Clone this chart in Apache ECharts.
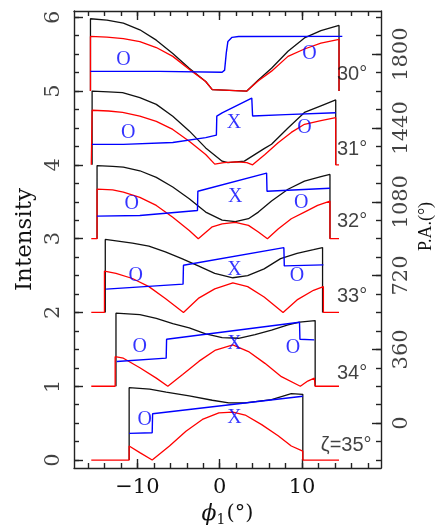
<!DOCTYPE html>
<html><head><meta charset="utf-8">
<script src="https://cdn.jsdelivr.net/npm/echarts@6/dist/echarts.min.js"></script>
<style>html,body{margin:0;padding:0;background:#fff;}#c{width:443px;height:532px;}</style>
</head><body><div id="c"></div>
<script>
// ---------- data ----------
const zetaLabels = ['30°', '31°', '32°', '33°', '34°', 'ζ=35°'];
const baselines = [5, 4, 3, 2, 1, 0];

const black30 = [[-15.7,0],[-15.7,0.98],[-13.7,0.96],[-11.7,0.92],[-9.7,0.83],[-7.7,0.69],[-5.7,0.51],[-3.7,0.31],[-1.7,0.13],[-0.9,0.02],[-0.8,0],[3.3,0],[4.7,0.15],[6.3,0.31],[8.3,0.54],[10.3,0.72],[12.3,0.82],[14.5,0.89],[14.5,0]];
const black31 = [[-15.5,0],[-15.5,1.0],[-13.5,0.99],[-11.8,0.98],[-9.7,0.91],[-7.7,0.82],[-5.7,0.66],[-3.7,0.46],[-1.7,0.23],[0.3,0.05],[1.0,0.03],[3.0,0.05],[5.4,0.22],[6.3,0.28],[8.3,0.50],[10.3,0.71],[12.3,0.80],[14.1,0.88],[14.1,0]];
const black32 = [[-14.9,0],[-14.9,0.99],[-13.0,0.98],[-11.7,0.97],[-9.7,0.92],[-7.7,0.83],[-5.7,0.70],[-3.7,0.54],[-1.7,0.36],[0.3,0.25],[1.9,0.23],[3.5,0.27],[4.7,0.36],[6.3,0.51],[8.3,0.67],[10.3,0.78],[12.3,0.84],[13.4,0.87],[13.4,0]];
const black33 = [[-13.9,0],[-13.9,0.99],[-10.6,0.94],[-8.6,0.90],[-6.6,0.82],[-4.6,0.73],[-2.6,0.63],[-0.6,0.53],[1.6,0.47],[3.4,0.50],[5.4,0.59],[7.4,0.73],[9.4,0.80],[11.4,0.85],[12.5,0.88],[12.5,0]];
const black34 = [[-12.6,0],[-12.6,0.99],[-9.7,0.97],[-7.7,0.92],[-5.7,0.85],[-3.7,0.79],[-1.7,0.71],[0.3,0.66],[2.3,0.65],[4.3,0.70],[6.3,0.76],[8.3,0.83],[9.7,0.87],[11.6,0.89],[11.6,0]];
const black35 = [[-11.0,0],[-11.0,0.98],[-8.5,0.96],[-6.5,0.92],[-3.7,0.87],[-0.9,0.81],[1.1,0.775],[3.1,0.775],[6.3,0.82],[8.7,0.90],[10.1,0.89],[10.1,0]];

const red30 = [[-15.7,0],[-15.7,0.74],[-13.7,0.73],[-11.7,0.71],[-9.7,0.67],[-7.7,0.59],[-5.7,0.47],[-3.4,0.27],[-1.7,0.13],[-0.9,0.02],[-0.8,0],[3.3,0],[4.7,0.14],[6.3,0.27],[8.3,0.47],[10.3,0.57],[12.3,0.65],[14.5,0.70],[14.5,0]];
const red31 = [[-15.6,0],[-15.5,0],[-15.5,0.74],[-13.5,0.73],[-11.8,0.71],[-9.7,0.66],[-7.7,0.59],[-5.7,0.48],[-3.7,0.32],[-1.7,0.14],[-0.6,0.01],[0.5,0.03],[2.0,0.04],[3.3,0.03],[4.0,0],[5.5,0.14],[7.1,0.30],[8.7,0.44],[10.3,0.55],[12.3,0.60],[14.1,0.64],[14.1,0],[14.5,0]];
const red32 = [[-15.6,0],[-14.9,0],[-14.9,0.67],[-13.0,0.66],[-11.7,0.63],[-9.7,0.56],[-7.7,0.45],[-5.7,0.29],[-3.7,0.11],[-2.6,0],[-0.9,0.16],[0.3,0.20],[1.9,0.22],[3.5,0.18],[4.7,0.09],[5.8,0],[7.1,0.13],[8.7,0.27],[10.3,0.36],[11.9,0.45],[13.4,0.51],[13.4,0],[14.5,0]];
const red33 = [[-15.6,0],[-14.0,0],[-14.0,0.56],[-12.6,0.53],[-10.6,0.46],[-8.6,0.35],[-6.6,0.19],[-4.4,0],[-2.6,0.19],[-0.6,0.32],[1.6,0.40],[3.4,0.35],[5.4,0.21],[7.7,0],[9.4,0.17],[11.4,0.30],[12.6,0.35],[12.6,0],[14.5,0]];
const red34 = [[-15.6,0],[-12.7,0],[-12.7,0.40],[-11.7,0.38],[-9.7,0.25],[-7.7,0.11],[-6.3,0],[-4.5,0.16],[-2.5,0.34],[-0.5,0.49],[1.6,0.56],[3.5,0.47],[5.5,0.31],[7.5,0.13],[9.8,0],[10.7,0.07],[11.5,0.11],[11.6,0],[14.5,0]];
const red35 = [[-15.6,0],[-11.0,0],[-11.0,0.19],[-9.7,0.10],[-8.2,0],[-6.1,0.19],[-4.1,0.39],[-2.1,0.55],[-0.1,0.64],[1.6,0.65],[3.1,0.61],[5.1,0.48],[7.1,0.33],[8.7,0.19],[10.1,0.12],[10.1,0],[14.5,0]];

const pa30 = [[-15.7,1716],[-7.3,1716],[-7.2,1711],[0.3,1712],[0.6,1722],[0.8,1805],[1.0,1862],[1.5,1882],[2.3,1886],[14.9,1887]];
const pa31 = [[-15.5,1360],[-11.7,1360],[-11.6,1365],[-5.7,1369],[-1.7,1393],[-0.4,1405],[-0.35,1498],[0.3,1514],[3.9,1586],[4.0,1498],[8.0,1505],[14.1,1514]];
const pa32 = [[-14.9,1010],[-9.7,1013],[-2.7,1037],[-2.65,1131],[5.7,1220],[5.75,1131],[13.4,1146]];
const pa33 = [[-13.8,654],[-4.45,678],[-4.4,770],[7.8,856],[7.85,767],[12.6,772]];
const pa34 = [[-12.5,301],[-6.5,317],[-6.45,409],[9.7,492],[9.75,409],[11.5,406]];
const pa35 = [[-11.0,-50],[-8.2,-47],[-8.15,46],[10.1,131]];

const modeText = ['O','O', 'O','X','O', 'O','X','O', 'O','X','O', 'O','X','O', 'O','X'];
const modePos = [[-11.7,5.42],[10.9,5.51], [-11.1,4.44],[1.75,4.57],[10.3,4.50], [-10.7,3.47],[1.9,3.57],[9.9,3.49], [-10.2,2.50],[1.8,2.58],[9.4,2.50], [-9.7,1.53],[1.8,1.58],[8.9,1.52], [-9.1,0.55],[1.8,0.57]];
const zetaPos = [[14.25,5.22],[14.25,4.21],[14.25,3.23],[14.25,2.22],[14.25,1.17],[12.3,0.19]];

const xMajor = [-10, 0, 10];
const xMinor = []; for (let v = -16; v <= 18; v += 2) xMinor.push(v);
const yMajor = [0, 1, 2, 3, 4, 5, 6];
const yMinor = []; for (let v = 0; v <= 6.001; v += 0.25) yMinor.push(+v.toFixed(2));
const paMajor = [0, 360, 720, 1080, 1440, 1800];
const paMinor = []; for (let v = -180; v <= 1980; v += 90) paMinor.push(v);

const blacks = [black30, black31, black32, black33, black34, black35];
const reds = [red30, red31, red32, red33, red34, red35];
const pas = [pa30, pa31, pa32, pa33, pa34, pa35];

// ---------- chart ----------
const X_MIN = -17.7, X_MAX = 19.6;
const Y_MIN = -0.108, Y_MAX = 6.085;
const PA_MIN = (Y_MIN - 0.5) * 360, PA_MAX = (Y_MAX - 0.5) * 360;

const AX = { color: '#222', width: 1.4 };
const SERIF = 'DejaVu Serif';
const lblStyle = { fontFamily: SERIF, fontSize: 21, color: '#111' };

function xAx(pos, ticks, len, main) {
  return {
    type: 'value', position: pos, min: X_MIN, max: X_MAX,
    axisLine: { show: main, onZero: false, lineStyle: AX },
    axisTick: { show: true, inside: true, length: len, customValues: ticks, lineStyle: AX },
    axisLabel: { show: false }, splitLine: { show: false }
  };
}
function yAx(pos, min, max, ticks, len, main) {
  return {
    type: 'value', position: pos, min: min, max: max,
    axisLine: { show: main, onZero: false, lineStyle: AX },
    axisTick: { show: true, inside: true, length: len, customValues: ticks, lineStyle: AX },
    axisLabel: { show: false }, splitLine: { show: false }
  };
}

const xBottom = xAx('bottom', xMajor, 9, true);
xBottom.axisLabel = Object.assign({ show: true, customValues: xMajor, margin: 9,
  formatter: v => (v < 0 ? '\u2212' + Math.abs(v) : String(v)) }, lblStyle);
xBottom.name = '{phi|\u03d5}{sub|1}{n|(°)}';
xBottom.nameLocation = 'middle';
xBottom.nameGap = 33;
xBottom.nameTextStyle = { rich: {
  phi: { fontFamily: SERIF, fontStyle: 'italic', fontSize: 22, color: '#111', lineHeight: 26 },
  sub: { fontFamily: SERIF, fontSize: 14, color: '#111', verticalAlign: 'bottom', lineHeight: 26, padding: [10, 1, 0, 0] },
  n: { fontFamily: SERIF, fontSize: 21, color: '#111', lineHeight: 26 }
} };

const yLeft = yAx('left', Y_MIN, Y_MAX, yMajor, 9, true);
yLeft.name = 'Intensity';
yLeft.nameLocation = 'middle';
yLeft.nameGap = 37;
yLeft.nameTextStyle = { fontFamily: SERIF, fontSize: 23, color: '#111' };

const yRight = yAx('right', PA_MIN, PA_MAX, paMajor, 9, true);
yRight.name = 'P.A.(°)';
yRight.nameLocation = 'middle';
yRight.nameGap = 36;
yRight.nameTextStyle = { fontFamily: 'Liberation Serif', fontSize: 18, color: '#111', padding: [0, 0, 0, 26] };

const series = [];
for (let i = 0; i < 6; i++) {
  const b = baselines[i];
  series.push({ type: 'line', xAxisIndex: 0, yAxisIndex: 0, data: blacks[i].map(p => [p[0], p[1] + b]),
    symbol: 'none', lineStyle: { color: '#111', width: 1.3 }, z: 2, silent: true });
  series.push({ type: 'line', xAxisIndex: 0, yAxisIndex: 0, data: reds[i].map(p => [p[0], p[1] + b]),
    symbol: 'none', lineStyle: { color: '#ff0000', width: 1.3 }, z: 3, silent: true });
  series.push({ type: 'line', xAxisIndex: 0, yAxisIndex: 2, data: pas[i],
    symbol: 'none', lineStyle: { color: '#0000ff', width: 1.4 }, z: 4, silent: true });
}
series.push({
  type: 'scatter', xAxisIndex: 0, yAxisIndex: 0, symbolSize: 0.1, itemStyle: { color: 'rgba(0,0,0,0)' }, z: 5, silent: true,
  data: modePos.map((p, k) => ({ name: modeText[k], value: p })),
  label: { show: true, position: 'inside', formatter: '{b}', fontFamily: 'Liberation Serif', fontSize: 20, color: '#0000ff' }
});
series.push({
  type: 'scatter', xAxisIndex: 0, yAxisIndex: 0, symbolSize: 0.1, itemStyle: { color: 'rgba(0,0,0,0)' }, z: 5, silent: true,
  data: zetaPos.map((p, k) => ({ name: zetaLabels[k], value: p })),
  label: { show: true, position: [0, 0], align: 'left', verticalAlign: 'middle', formatter: '{b}',
    fontFamily: 'Liberation Sans', fontSize: 20, color: '#111' }
});

const chart = echarts.init(document.getElementById('c'), null, { renderer: 'canvas' });
const option = {
  animation: false,
  backgroundColor: '#fff',
  grid: { left: 74, right: 59, top: 11, bottom: 61, containLabel: false },
  xAxis: [xBottom, xAx('bottom', xMinor, 5, false), xAx('top', xMajor, 9, true), xAx('top', xMinor, 5, false)],
  yAxis: [yLeft, yAx('left', Y_MIN, Y_MAX, yMinor, 5, false), yRight, yAx('right', PA_MIN, PA_MAX, paMinor, 5, false)],
  series: series
};
chart.setOption(option);

// rotated tick labels of the vertical axes, placed through the axes' own scales
const rect = chart.getModel().getComponent('grid', 0).coordinateSystem.getRect();
const xLeftLab = chart.convertFromPixel({ xAxisIndex: 0 }, rect.x - 20.5);
const xRightLab = chart.convertFromPixel({ xAxisIndex: 0 }, rect.x + rect.width + 20.5);
const rotLabel = { show: true, position: 'inside', rotate: 90, align: 'center', verticalAlign: 'middle',
  formatter: '{b}', fontFamily: SERIF, fontSize: 21, color: '#111' };
series.push({
  type: 'scatter', xAxisIndex: 0, yAxisIndex: 0, symbolSize: 0.1, itemStyle: { color: 'rgba(0,0,0,0)' }, silent: true, clip: false,
  data: yMajor.map(v => ({ name: String(v), value: [xLeftLab, v] })), label: rotLabel
});
series.push({
  type: 'scatter', xAxisIndex: 0, yAxisIndex: 2, symbolSize: 0.1, itemStyle: { color: 'rgba(0,0,0,0)' }, silent: true, clip: false,
  data: paMajor.map(v => ({ name: String(v), value: [xRightLab, v] })), label: rotLabel
});
chart.setOption({ series: series });
</script></body></html>
